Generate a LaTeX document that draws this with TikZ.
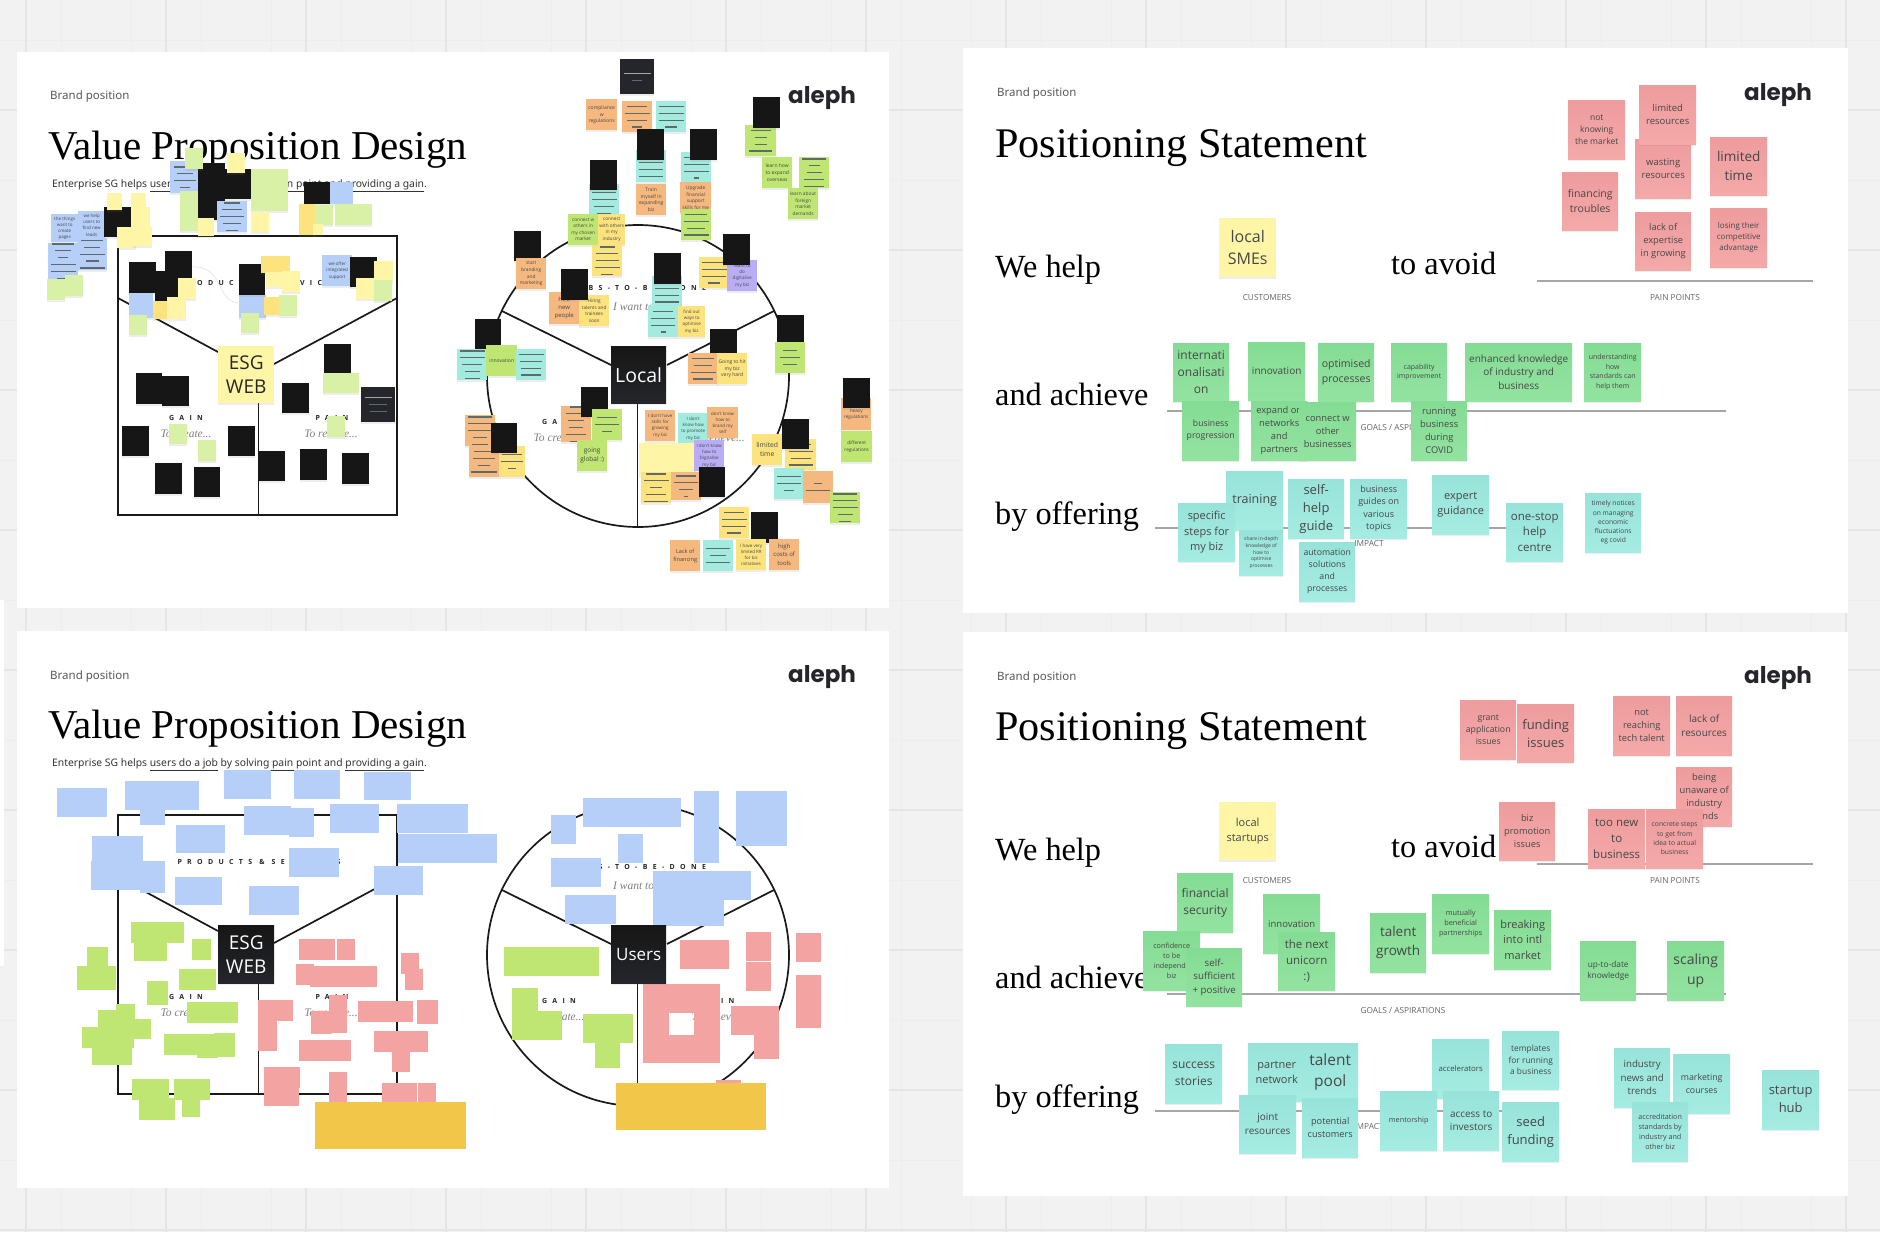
\documentclass[tikz,border=0pt]{standalone}
\usepackage{fontspec}
\usepackage{xcolor}
\usetikzlibrary{shadows}
\setmainfont{Open Sans}
\newfontfamily\headfont{Liberation Serif}
\newfontfamily\plexfont{Noto Sans}
\newfontfamily\logofont{Poppins}
\newfontfamily\trackfont[LetterSpace=76]{Open Sans}
\definecolor{ink}{HTML}{161616}
\definecolor{slate}{HTML}{24262B}
\definecolor{skyn}{HTML}{B5CFF8}
\definecolor{butter}{HTML}{FEF5A6}
\definecolor{pale}{HTML}{D9F1A6}
\definecolor{sun}{HTML}{FCE37E}
\definecolor{peach}{HTML}{F5B97F}
\definecolor{aqua}{HTML}{A3EADF}
\definecolor{lime}{HTML}{BFE672}
\definecolor{lilac}{HTML}{B9AEF5}
\definecolor{rose}{HTML}{F3A3A1}
\definecolor{gold}{HTML}{F2C648}
\definecolor{linegrey}{HTML}{5F6B6B}
\newcommand{\nfont}[1]{\fontsize{#1}{#1}\selectfont\baselineskip=1.38\baselineskip}
\newcommand{\wfont}[1]{\fontsize{#1}{24}\selectfont}
\newcommand{\gline}[1]{\textcolor{linegrey}{\rule{#1pt}{1.3pt}}}
\newcommand{\fnote}[7]{\node[note,fill=#5,minimum width=#3pt,minimum height=#4pt,font=\nfont{#6}] (n#1x#2) at (#1,#2) {#7};}
\newcommand{\snote}[7]{\node[#5,minimum width=#3pt,minimum height=#4pt,font=\nfont{#6}] (n#1x#2) at (#1,#2) {#7};}

\begin{document}
\begin{tikzpicture}[x=1pt,y=-1pt,
  note/.style={anchor=north west,inner sep=0pt,align=center,text=black!72,
    drop shadow={opacity=.14,shadow xshift=0pt,shadow yshift=-1.6pt}},
  butternote/.style={note,fill=butter},
  pinknote/.style={note,top color={rgb,255:red,238;green,156;blue,158},bottom color={rgb,255:red,244;green,169;blue,169}},
  greennote/.style={note,top color={rgb,255:red,132;green,220;blue,148},bottom color={rgb,255:red,147;green,227;blue,160}},
  tealnote/.style={note,top color={rgb,255:red,151;green,227;blue,218},bottom color={rgb,255:red,165;green,236;blue,226}},
  frame/.style={draw=black!90,line width=1.7pt},
  rulegrey/.style={draw=black!35,line width=1.5pt},
  headA/.style={font=\headfont\fontsize{41}{41}\selectfont,anchor=base west,inner sep=0pt},
  headB/.style={font=\headfont\fontsize{32.3}{33}\selectfont,anchor=base west,inner sep=0pt},
  brand/.style={font=\plexfont\fontsize{11.5}{12}\selectfont,text=black!65,inner sep=0pt},
  logo/.style={font=\logofont\bfseries\fontsize{23}{24}\selectfont,text=slate,anchor=base west,inner sep=0pt},
  caplab/.style={font=\fontsize{8.3}{9}\selectfont,text=black!60},
  track/.style={font=\trackfont\bfseries\fontsize{7}{8}\selectfont,text=black!85},
  hint/.style={font=\headfont\itshape\fontsize{11.5}{12}\selectfont,text=black!50}
]
 \path[use as bounding box] (0,0) rectangle (1880,1232);
 \fill[black!5] (0,0) rectangle (1880,1232);
 \foreach \xx in {-9,61,...,1880} \draw[black!7,line width=.8pt] (\xx,0) -- (\xx,1232);
 \foreach \yy in {40,180,...,1232} \draw[black!7,line width=.8pt] (0,\yy) -- (1880,\yy);
 \foreach \xx in {26,166,...,1880} \draw[black!10,line width=1.3pt] (\xx,0) -- (\xx,1232);
 \foreach \yy in {110,250,...,1232} \draw[black!10,line width=1.3pt] (0,\yy) -- (1880,\yy);

 % white boards
 \fill[white] (17,52) rectangle (889,608);
 \fill[white] (17,631) rectangle (889,1188);
 \fill[white] (963,48) rectangle (1848,613);
 \fill[white] (963,632) rectangle (1848,1196);
 \fill[white] (0,600) rectangle (4,966);

 % Value proposition boards: the same template twice
 \foreach \py in {0,579} {
 \begin{scope}[shift={(0,\py)}]
  \node[brand,anchor=west] (brandv\py) at (50,97) {Brand position};
  \node[headA] (titlev\py) at (48,159) {Value Proposition Design};
  \node[font=\plexfont\fontsize{10.35}{12}\selectfont,text=black!80,anchor=base west,inner sep=0pt] (subv\py) at (52,187)
    {Enterprise SG helps \underline{users do a job} by \underline{solving pain point} and \underline{providing a gain}.};
  \node[logo] (logov\py) at (788,103) {aleph};
  \draw[frame] (118,236) rectangle (397,515);
  \draw[frame] (118,298) -- (218,352);
  \draw[frame] (397,298) -- (274,364);
  \draw[frame] (258.5,403) -- (258.5,515);
  \draw[frame] (638,376) circle (151);
  \draw[frame] (502,311) -- (611,365);
  \draw[frame] (774,311) -- (667,365);
  \draw[frame] (637.5,403) -- (637.5,527);
  \node[track] (prodv\py) at (259,282.5) {PRODUCTS \& SERVICES};
  \node[track] (gainv\py) at (186,418) {GAIN};
  \node[hint] (makev\py) at (186,434) {To create...};
  \node[track] (painv\py) at (332,418) {PAIN};
  \node[hint] (cutv\py) at (331,434) {To reduce...};
  \node[track] (jobsv\py) at (638,289) {JOBS-TO-BE-DONE};
  \node[hint] (wantv\py) at (638,307) {I want to...};
  \node[track] (gaincv\py) at (559,422) {GAIN};
  \node[hint] (makecv\py) at (559,438) {To create...};
  \node[track] (paincv\py) at (718,422) {PAIN};
  \node[hint] (cutcv\py) at (718,438) {To relieve...};
 \end{scope}
 }
 \draw[black!12,line width=.5pt] (192,267) .. controls (225,265) and (215,303) .. (240,303);

 % Positioning boards: the same template twice
 \foreach \py in {0,583} {
 \begin{scope}[shift={(0,\py)}]
  \node[brand,anchor=west] (brandp\py) at (997,94) {Brand position};
  \node[headA,font=\headfont\fontsize{42.2}{42}\selectfont] (titlep\py) at (995,157) {Positioning Statement};
  \node[logo] (logop\py) at (1744,100) {aleph};
  \node[headB] (helpp\py) at (995,277.5) {We help};
  \node[headB] (avoidp\py) at (1391,274.5) {to avoid};
  \node[headB] (achp\py) at (995,405) {and achieve};
  \node[headB] (offp\py) at (995,524) {by offering};
  \draw[rulegrey] (1537,281) -- (1813,281);
  \draw[rulegrey] (1167,411) -- (1726,411);
  \draw[rulegrey] (1155,528) -- (1510,528);
  \node[caplab] (custp\py) at (1267,298) {CUSTOMERS};
  \node[caplab] (painp\py) at (1675,298) {PAIN POINTS};
  \node[caplab] (goalp\py) at (1403,428) {GOALS / ASPIRATIONS};
  \node[caplab] (impp\py) at (1369,544) {IMPACT};
 \end{scope}
 }

 % Board one, product side
 \fnote{51}{214}{27}{28}{skyn}{4.5}{the things\\want to\\create\\pages}
 \fnote{78}{211}{27}{28}{skyn}{4.5}{we help\\users to\\find new\\leads}
 \fnote{104}{207}{27}{30}{ink}{5}{}
 \fnote{107}{193}{15}{17}{butter}{5}{}
 \fnote{131}{193}{15}{16}{butter}{5}{}
 \fnote{131}{207}{19}{21}{butter}{5}{}
 \fnote{117}{227}{19}{21}{butter}{5}{}
 \fnote{133}{227}{19}{19}{butter}{5}{}
 \fnote{48}{243}{30}{31}{skyn}{5}{\gline{22}\\\gline{16}\\\gline{10}\\\gline{25}\\\gline{25}\\\gline{13}}
 \fnote{77}{238}{30}{32}{skyn}{5}{\gline{22}\\\gline{16}\\\gline{25}\\\gline{13}\\\gline{25}}
 \fnote{47}{279}{18}{21}{pale}{5}{}
 \fnote{65}{275}{18}{21}{pale}{5}{}
 \fnote{170}{161}{30}{32}{skyn}{5}{\gline{22}\\\gline{16}\\\gline{22}\\\gline{10}}
 \fnote{180}{191}{18}{40}{pale}{5}{}
 \fnote{198}{163}{27}{57}{ink}{5}{}
 \fnote{225}{169}{26}{30}{ink}{5}{}
 \fnote{185}{148}{18}{21}{pale}{5}{}
 \fnote{227}{153}{18}{20}{butter}{5}{}
 \fnote{198}{218}{16}{18}{butter}{5}{}
 \fnote{217}{201}{30}{31}{skyn}{5}{\gline{16}\\\gline{20}\\\gline{24}\\\gline{18}\\\gline{12}}
 \fnote{251}{169}{37}{42}{pale}{5}{}
 \fnote{251}{212}{18}{20}{butter}{5}{}
 \fnote{304}{182}{26}{22}{ink}{5}{}
 \fnote{330}{182}{23}{22}{skyn}{5}{}
 \fnote{299}{204}{16}{31}{sun}{5}{}
 \fnote{315}{205}{18}{20}{pale}{5}{}
 \fnote{335}{204}{37}{21}{pale}{5}{}
 \fnote{313}{224}{10}{11}{butter}{5}{}
 \fnote{129}{262}{27}{31}{ink}{5}{}
 \fnote{165}{251}{27}{31}{ink}{5}{}
 \fnote{155}{271}{23}{31}{ink}{5}{}
 \fnote{178}{278}{18}{21}{butter}{5}{}
 \fnote{129}{293}{24}{25}{skyn}{5}{}
 \fnote{153}{301}{14}{18}{sun}{5}{}
 \fnote{167}{297}{19}{22}{butter}{5}{}
 \fnote{129}{315}{18}{20}{pale}{5}{}
 \fnote{239}{295}{27}{23}{skyn}{5}{}
 \fnote{239}{264}{26}{31}{ink}{5}{}
 \fnote{261}{256}{29}{17}{sun}{5}{}
 \fnote{266}{272}{17}{15}{butter}{5}{}
 \fnote{282}{271}{18}{21}{butter}{5}{}
 \fnote{264}{297}{15}{18}{sun}{5}{}
 \fnote{279}{295}{18}{21}{pale}{5}{}
 \fnote{241}{313}{18}{20}{pale}{5}{}
 \fnote{322}{255}{30}{31}{skyn}{4.5}{we offer\\integrated\\support}
 \fnote{350}{257}{27}{30}{ink}{5}{}
 \fnote{374}{261}{19}{21}{butter}{5}{}
 \fnote{356}{278}{18}{21}{butter}{5}{}
 \fnote{374}{280}{18}{21}{pale}{5}{}
 \fnote{136}{373}{26}{31}{ink}{5}{}
 \fnote{162}{376}{27}{30}{ink}{5}{}
 \fnote{324}{344}{27}{29}{ink}{5}{}
 \fnote{323}{373}{36}{20}{pale}{5}{}
 \fnote{282}{383}{27}{30}{ink}{5}{}
 \fnote{122}{426}{27}{30}{ink}{5}{}
 \fnote{169}{424}{18}{20}{pale}{5}{}
 \fnote{198}{440}{18}{21}{pale}{5}{}
 \fnote{228}{426}{27}{30}{ink}{5}{}
 \fnote{327}{416}{18}{21}{pale}{5}{}
 \fnote{259}{451}{26}{30}{ink}{5}{}
 \fnote{300}{449}{27}{31}{ink}{5}{}
 \fnote{342}{453}{27}{31}{ink}{5}{}
 \fnote{155}{463}{27}{31}{ink}{5}{}
 \fnote{194}{467}{26}{30}{ink}{5}{}
 \node[note,fill=slate,minimum width=34pt,minimum height=35pt,font=\nfont{5}] (darkone) at (361,387)
   {\colorlet{linegrey}{white!65!black}\gline{27}\\\gline{18}\\\gline{17}};
 \node[note,fill=butter,text=black!85,minimum width=56pt,minimum height=57pt,font=\wfont{19}] (esgone) at (218,346) {ESG\\WEB};

 % Board one, customer side
 \fnote{586}{99}{31}{31}{peach}{5}{compliance\\w\\regulations}
 \fnote{622}{101}{30}{31}{peach}{5}{\gline{20}\\\gline{25}\\\gline{20}\\\gline{10}}
 \fnote{656}{101}{30}{31}{aqua}{5}{\gline{25}\\\gline{25}\\\gline{25}\\\gline{12}}
 \fnote{636}{150}{30}{32}{aqua}{5}{\gline{24}\\\gline{24}\\\gline{24}\\\gline{24}}
 \fnote{637}{129}{27}{31}{ink}{5}{}
 \fnote{681}{152}{30}{31}{aqua}{5}{\gline{25}\\\gline{25}\\\gline{25}\\\gline{5}}
 \fnote{690}{129}{27}{31}{ink}{5}{}
 \fnote{636}{184}{30}{31}{peach}{5}{Train\\myself in\\expanding\\biz}
 \fnote{680}{182}{31}{31}{peach}{4.8}{Upgrade\\financial\\support\\skills for me}
 \fnote{681}{209}{30}{31}{lime}{5}{\gline{22}\\\gline{25}\\\gline{18}\\\gline{25}}
 \fnote{589}{184}{30}{31}{aqua}{5}{\gline{12}\\\gline{24}\\\gline{25}\\\gline{20}\\\gline{14}}
 \fnote{590}{160}{27}{30}{ink}{5}{}
 \fnote{568}{214}{30}{31}{lime}{4.7}{connect w\\others in\\my chosen\\market}
 \fnote{598}{214}{27}{31}{sun}{4.7}{connect\\with others\\in my\\industry}
 \fnote{592}{245}{30}{31}{sun}{5}{\gline{15}\\\gline{22}\\\gline{23}\\\gline{25}\\\gline{12}}
 \fnote{514}{231}{27}{30}{ink}{5}{}
 \fnote{516}{258}{30}{31}{peach}{4.8}{start\\branding\\and\\marketing}
 \fnote{549}{292}{30}{32}{peach}{6}{Hire\\new\\people}
 \fnote{579}{295}{30}{31}{sun}{4.7}{Hiring\\talents and\\trainees\\soon}
 \fnote{561}{269}{27}{31}{ink}{5}{}
 \fnote{652}{276}{30}{31}{aqua}{5}{\gline{8}\\\gline{24}\\\gline{24}\\\gline{24}}
 \fnote{654}{253}{27}{31}{ink}{5}{}
 \fnote{648}{306}{30}{31}{aqua}{5}{\gline{20}\\\gline{24}\\\gline{24}\\\gline{5}}
 \fnote{678}{306}{27}{31}{sun}{4.5}{find out\\ways to\\optimise\\my biz}
 \fnote{699}{257}{30}{31}{sun}{5}{\gline{24}\\\gline{25}\\\gline{24}\\\gline{12}}
 \fnote{727}{260}{30}{31}{lilac}{4.6}{Want to\\do\\digitalise\\my biz}
 \fnote{723}{234}{27}{31}{ink}{5}{}
 \fnote{710}{329}{27}{30}{ink}{5}{}
 \fnote{777}{315}{27}{31}{ink}{5}{}
 \fnote{775}{342}{30}{31}{lime}{5}{\gline{14}\\\gline{20}\\\gline{14}}
 \fnote{745}{125}{31}{31}{lime}{5}{\gline{20}\\\gline{12}\\\gline{12}\\\gline{23}}
 \fnote{753}{97}{27}{31}{ink}{5}{}
 \fnote{762}{157}{30}{31}{lime}{5}{learn how\\to expand\\overseas}
 \fnote{799}{157}{30}{31}{lime}{5}{\gline{24}\\\gline{11}\\\gline{15}\\\gline{20}\\\gline{20}}
 \fnote{788}{188}{30}{31}{lime}{4.8}{learn about\\foreign\\market\\demands}
 \fnote{475}{319}{26}{31}{ink}{5}{}
 \fnote{457}{349}{30}{31}{aqua}{5}{\gline{25}\\\gline{25}\\\gline{20}\\\gline{15}\\\gline{15}}
 \fnote{486}{345}{31}{31}{lime}{5}{innovation}
 \fnote{516}{349}{30}{31}{aqua}{5}{\gline{25}\\\gline{22}\\\gline{20}\\\gline{20}}
 \fnote{688}{353}{30}{31}{peach}{5}{\gline{22}\\\gline{18}\\\gline{25}\\\gline{20}}
 \fnote{717}{353}{30}{31}{sun}{5}{Going to hit\\my biz\\very hard}
 \fnote{561}{406}{30}{31}{peach}{5}{\gline{12}\\\gline{20}\\\gline{16}\\\gline{14}\\\gline{20}\\\gline{12}}
 \fnote{581}{387}{27}{30}{ink}{5}{}
 \fnote{592}{409}{30}{31}{lime}{5}{\gline{20}\\\gline{24}\\\gline{10}}
 \fnote{577}{440}{30}{31}{lime}{6.5}{going\\global :)}
 \fnote{465}{415}{30}{31}{peach}{5}{\gline{24}\\\gline{25}\\\gline{25}\\\gline{14}\\\gline{16}}
 \fnote{469}{446}{30}{31}{peach}{5}{\gline{20}\\\gline{22}\\\gline{12}\\\gline{26}}
 \fnote{499}{446}{26}{31}{sun}{5}{\gline{20}\\\gline{22}\\\gline{8}}
 \fnote{491}{423}{26}{30}{ink}{5}{}
 \fnote{645}{410}{30}{31}{peach}{4.5}{I don't have\\skills for\\growing\\my biz}
 \fnote{678}{413}{30}{31}{aqua}{4.5}{I don't\\know how\\to promote\\my biz}
 \fnote{707}{407}{31}{31}{peach}{4.5}{don't know\\how to\\brand my\\self}
 \fnote{639}{443}{57}{32}{butter}{5}{}
 \fnote{694}{440}{30}{31}{lilac}{4.5}{I don't know\\how to\\Digitalise\\my biz}
 \fnote{641}{472}{30}{31}{sun}{5}{\gline{20}\\\gline{25}\\\gline{12}\\\gline{20}\\\gline{24}}
 \fnote{671}{472}{30}{28}{peach}{5}{\gline{20}\\\gline{24}\\\gline{14}\\\gline{4}}
 \fnote{699}{467}{26}{30}{ink}{5}{}
 \fnote{752}{434}{30}{31}{sun}{6.8}{limited\\time}
 \fnote{785}{439}{31}{31}{sun}{5}{\gline{20}\\\gline{24}\\\gline{20}\\\gline{24}}
 \fnote{782}{419}{27}{30}{ink}{5}{}
 \fnote{774}{468}{30}{31}{aqua}{5}{\gline{24}\\\gline{24}\\\gline{10}}
 \fnote{803}{471}{30}{32}{peach}{5}{\gline{8}\\\gline{24}}
 \fnote{830}{492}{30}{31}{lime}{5}{\gline{24}\\\gline{24}\\\gline{25}\\\gline{15}\\\gline{12}}
 \fnote{841}{398}{30}{32}{peach}{4.7}{heavy\\regulations}
 \fnote{843}{378}{27}{30}{ink}{5}{}
 \fnote{841}{431}{31}{31}{lime}{4.7}{different\\regulations}
 \fnote{719}{507}{30}{31}{sun}{5}{\gline{20}\\\gline{25}\\\gline{24}\\\gline{14}}
 \fnote{751}{512}{27}{31}{ink}{5}{}
 \fnote{670}{540}{30}{31}{peach}{5.6}{Lack of\\financing}
 \fnote{703}{540}{30}{31}{aqua}{5}{\gline{24}\\\gline{16}\\\gline{24}}
 \fnote{736}{539}{30}{31}{sun}{4.4}{I have very\\limited RR\\for biz\\initiatives}
 \fnote{769}{539}{30}{31}{peach}{6}{high\\costs of\\tools}
 \node[note,fill=slate,minimum width=34pt,minimum height=35pt,font=\nfont{5}] (darktwo) at (620,59)
   {\colorlet{linegrey}{white!65!black}\gline{27}\\\gline{10}};
 \node[note,top color=ink,bottom color=slate,text=white,minimum width=55pt,minimum height=57pt,font=\nfont{19.5}] (localone) at (611,346) {Local};

 % Board two, filled-in blocks only
 \foreach \xx/\yy/\ww/\hh in {
  57/788/50/29,125/781/74/29,140/808/25/17,224/770/47/29,294/770/46/29,364/772/47/28,
  244/806/47/29,289/808/25/29,330/804/49/29,397/804/71/29,398/834/99/29,176/825/49/28,
  92/836/51/29,91/861/74/29,140/864/25/29,289/848/50/29,374/866/49/29,175/877/47/28,
  249/886/50/29,583/798/98/29,694/791/25/72,736/791/51/55,551/815/25/29,618/834/25/29,
  551/858/50/29,653/871/98/29,653/900/71/26,565/895/51/29}
  \fill[skyn] (\xx,\yy) rectangle ++(\ww,\hh);
 \foreach \xx/\yy/\ww/\hh in {
  131/922/53/21,134/943/33/18,192/939/19/21,87/947/21/20,77/966/39/24,179/969/37/21,
  147/981/21/24,187/1002/51/21,116/1004/19/23,98/1010/37/23,82/1027/52/21,134/1019/17/20,
  92/1043/40/22,164/1034/71/21,197/1040/21/18,214/1033/21/24,132/1079/37/21,139/1098/36/22,
  174/1079/36/21,182/1100/18/17,504/947/95/29,512/988/26/52,512/1011/50/29,583/1014/50/29,
  595/1043/25/25}
  \fill[lime] (\xx,\yy) rectangle ++(\ww,\hh);
 \foreach \xx/\yy/\ww/\hh in {
  299/939/36/21,337/939/18/21,296/964/18/21,310/966/67/21,258/1000/35/21,258/1021/19/30,
  329/995/18/38,311/1011/21/23,358/1001/55/21,417/1000/21/24,401/953/18/21,405/969/18/21,
  299/1040/52/21,374/1031/54/21,392/1051/18/21,264/1067/36/21,264/1088/35/18,329/1072/18/31,
  382/1083/35/20,418/1083/18/20,680/940/49/29,746/932/25/29,746/962/25/29,796/933/25/29,
  796/975/25/53,643/984/26/79,669/984/51/29,694/1013/26/50,669/1035/25/28,731/1006/48/29,
  754/1035/25/24,716/1080/25/5}
  \fill[rose] (\xx,\yy) rectangle ++(\ww,\hh);
 \fill[gold] (315,1102) rectangle ++(151,47);
 \fill[gold] (616,1083) rectangle ++(150,47);
 \node[note,top color=ink,bottom color=slate,text=white,minimum width=56pt,minimum height=58pt,font=\wfont{19}] (esgtwo) at (218,925) {ESG\\WEB};
 \node[note,top color=ink,bottom color=slate,text=white,minimum width=55pt,minimum height=58pt,font=\nfont{17}] (users) at (611,925) {Users};

 % Positioning boards, notes
 \snote{1219}{218}{57}{59}{butternote}{16}{local\\SMEs}
 \snote{1568}{100}{57}{59}{pinknote}{8.5}{not\\knowing\\the market}
 \snote{1635}{139}{56}{59}{pinknote}{9.5}{wasting\\resources}
 \snote{1639}{85}{57}{59}{pinknote}{9.5}{limited\\resources}
 \snote{1710}{137}{57}{58}{pinknote}{13.5}{limited\\time}
 \snote{1562}{172}{56}{58}{pinknote}{10.5}{financing\\troubles}
 \snote{1635}{212}{56}{58}{pinknote}{9.3}{lack of\\expertise\\in growing}
 \snote{1710}{208}{57}{59}{pinknote}{8}{losing their\\competitive\\advantage}
 \snote{1173}{343}{56}{58}{greennote}{12}{internati\\onalisati\\on}
 \snote{1248}{342}{57}{58}{greennote}{10}{innovation}
 \snote{1318}{343}{56}{58}{greennote}{10.5}{optimised\\processes}
 \snote{1391}{343}{56}{58}{greennote}{7}{capability\\improvement}
 \snote{1465}{343}{107}{58}{greennote}{10}{enhanced knowledge\\of industry and\\business}
 \snote{1584}{343}{57}{58}{greennote}{7}{understanding\\how\\standards can\\help them}
 \snote{1182}{401}{57}{59}{greennote}{8.7}{business\\progression}
 \snote{1251}{401}{56}{59}{greennote}{9.3}{expand on\\networks\\and\\partners}
 \snote{1299}{402}{57}{58}{greennote}{9.3}{connect w\\other\\businesses}
 \snote{1411}{401}{56}{59}{greennote}{9.3}{running\\business\\during\\COVID}
 \snote{1226}{471}{57}{59}{tealnote}{12.5}{training}
 \snote{1178}{503}{57}{58}{tealnote}{11}{specific\\steps for\\my biz}
 \snote{1239}{530}{44}{45}{tealnote}{5}{share in-depth\\knowledge of\\how to\\optimise\\processes}
 \snote{1288}{479}{56}{59}{tealnote}{13}{self-\\help\\guide}
 \snote{1350}{479}{57}{59}{tealnote}{9}{business\\guides on\\various\\topics}
 \snote{1299}{542}{56}{59}{tealnote}{8.7}{automation\\solutions\\and\\processes}
 \snote{1432}{475}{57}{59}{tealnote}{11}{expert\\guidance}
 \snote{1506}{503}{57}{58}{tealnote}{11.5}{one-stop\\help\\centre}
 \snote{1585}{493}{56}{59}{tealnote}{6.7}{timely notices\\on managing\\economic\\fluctuations\\eg covid}
 \snote{1219}{802}{57}{58}{butternote}{11}{local\\startups}
 \snote{1460}{700}{56}{59}{pinknote}{8.7}{grant\\application\\issues}
 \snote{1517}{704}{57}{58}{pinknote}{13}{funding\\issues}
 \snote{1613}{696}{57}{59}{pinknote}{9.3}{not\\reaching\\tech talent}
 \snote{1676}{696}{56}{59}{pinknote}{10}{lack of\\resources}
 \snote{1676}{767}{56}{59}{pinknote}{9.3}{being\\unaware of\\industry\\trends}
 \snote{1499}{802}{56}{58}{pinknote}{9.3}{biz\\promotion\\issues}
 \snote{1588}{809}{57}{59}{pinknote}{11.5}{too new\\to\\business}
 \snote{1646}{809}{57}{59}{pinknote}{6.8}{concrete steps\\to get from\\idea to actual\\business}
 \snote{1177}{873}{56}{59}{greennote}{12}{financial\\security}
 \snote{1263}{894}{57}{59}{greennote}{9.5}{innovation}
 \snote{1278}{932}{57}{58}{greennote}{11.5}{the next\\unicorn\\:)}
 \snote{1370}{913}{56}{59}{greennote}{13.5}{talent\\growth}
 \snote{1432}{894}{57}{59}{greennote}{7.3}{mutually\\beneficial\\partnerships}
 \snote{1494}{910}{57}{59}{greennote}{11}{breaking\\into intl\\market}
 \snote{1143}{931}{57}{59}{greennote}{7.2}{confidence\\to be\\independe\\biz}
 \snote{1186}{948}{56}{58}{greennote}{9.7}{self-\\sufficient\\+ positive}
 \snote{1580}{941}{56}{59}{greennote}{8.3}{up-to-date\\knowledge}
 \snote{1667}{941}{57}{59}{greennote}{14}{scaling\\up}
 \snote{1165}{1044}{57}{59}{tealnote}{12}{success\\stories}
 \snote{1248}{1043}{57}{58}{tealnote}{11}{partner\\network}
 \snote{1302}{1043}{56}{58}{tealnote}{15.5}{talent\\pool}
 \snote{1239}{1095}{57}{58}{tealnote}{10}{joint\\resources}
 \snote{1302}{1098}{56}{59}{tealnote}{9.2}{potential\\customers}
 \snote{1432}{1039}{57}{59}{tealnote}{7.8}{accelerators}
 \snote{1502}{1031}{57}{58}{tealnote}{8.4}{templates\\for running\\a business}
 \snote{1380}{1091}{57}{59}{tealnote}{7.3}{mentorship}
 \snote{1443}{1091}{56}{59}{tealnote}{10}{access to\\investors}
 \snote{1502}{1102}{57}{59}{tealnote}{13}{seed\\funding}
 \snote{1614}{1048}{56}{59}{tealnote}{9.7}{industry\\news and\\trends}
 \snote{1673}{1054}{57}{59}{tealnote}{8.8}{marketing\\courses}
 \snote{1632}{1102}{56}{59}{tealnote}{7.2}{accreditation\\standards by\\industry and\\other biz}
 \snote{1762}{1070}{57}{59}{tealnote}{13}{startup\\hub}
\end{tikzpicture}
\end{document}
